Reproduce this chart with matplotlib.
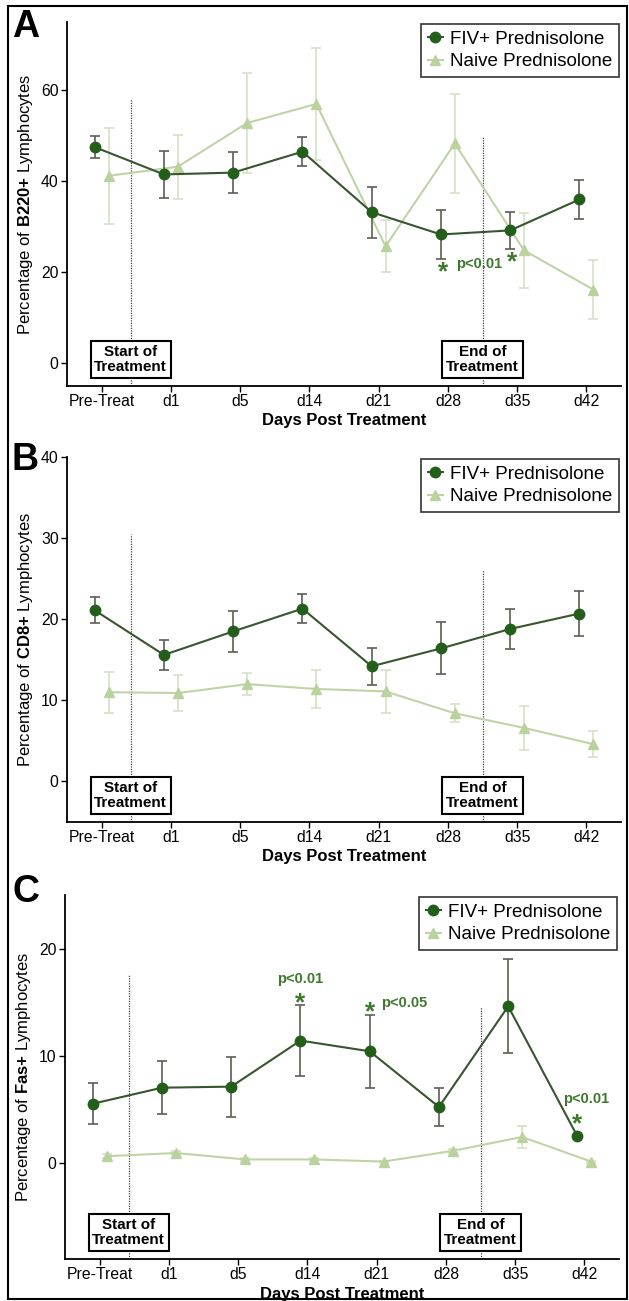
import matplotlib
matplotlib.use('Agg')
import matplotlib.pyplot as plt
import numpy as np
from matplotlib.patches import Rectangle

plt.rcParams['font.family'] = ['Liberation Sans', 'DejaVu Sans']
plt.rcParams['mathtext.fontset'] = 'custom'
plt.rcParams['mathtext.rm'] = 'Liberation Sans'
plt.rcParams['mathtext.bf'] = 'Liberation Sans:bold'

# ---------------- data ----------------
categories = ['Pre-Treat', 'd1', 'd5', 'd14', 'd21', 'd28', 'd35', 'd42']
series_names = ['FIV+ Prednisolone', 'Naive Prednisolone']

b220_fiv = [47.5, 41.5, 41.9, 46.5, 33.2, 28.3, 29.2, 36.0]
b220_fiv_err = [2.4, 5.2, 4.5, 3.2, 5.6, 5.4, 4.1, 4.3]
b220_naive = [41.2, 43.2, 52.8, 57.0, 25.7, 48.3, 24.8, 16.2]
b220_naive_err = [10.6, 7.0, 11.0, 12.3, 5.7, 10.8, 8.2, 6.5]

cd8_fiv = [21.1, 15.6, 18.5, 21.3, 14.2, 16.4, 18.8, 20.7]
cd8_fiv_err = [1.6, 1.8, 2.5, 1.8, 2.3, 3.2, 2.5, 2.8]
cd8_naive = [11.0, 10.9, 12.0, 11.4, 11.1, 8.4, 6.6, 4.6]
cd8_naive_err = [2.5, 2.2, 1.4, 2.3, 2.6, 1.1, 2.7, 1.6]

fas_fiv = [5.5, 7.0, 7.1, 11.4, 10.4, 5.2, 14.6, 2.45]
fas_fiv_err = [1.9, 2.5, 2.8, 3.3, 3.4, 1.8, 4.4, 0.15]
fas_naive = [0.6, 0.9, 0.3, 0.3, 0.1, 1.1, 2.4, 0.1]
fas_naive_err = [0.2, 0.2, 0.1, 0.1, 0.1, 0.2, 1.0, 0.1]

# ---------------- style ----------------
W, H = 629, 1301
FIV_MK = '#235f1b'
FIV_LN = '#38552f'
FIV_ER = '#5c5f55'
NAI_MK = '#b9d29e'
NAI_LN = '#bfd4a6'
NAI_ER = '#d5e0c4'
ANN = '#3e7a2d'

fig = plt.figure(figsize=(W / 100, H / 100), dpi=100)


def rect(l, r, t, b):
    return [l / W, 1 - b / H, (r - l) / W, (b - t) / H]


panels = [
    dict(letter='A', rect=rect(67, 621, 22, 386), ylim=(-5, 75), yticks=[0, 20, 40, 60],
         bold='B220', fiv=b220_fiv, fe=b220_fiv_err, nai=b220_naive, ne=b220_naive_err,
         start_top=58, end_top=50, letter_xy=(12, 37)),
    dict(letter='B', rect=rect(67, 621, 457, 822), ylim=(-5, 40), yticks=[0, 10, 20, 30, 40],
         bold='CD8', fiv=cd8_fiv, fe=cd8_fiv_err, nai=cd8_naive, ne=cd8_naive_err,
         start_top=30.5, end_top=26.1, letter_xy=(12, 470)),
    dict(letter='C', rect=rect(65, 619, 895, 1259), ylim=(-9, 25), yticks=[0, 10, 20],
         bold='Fas', fiv=fas_fiv, fe=fas_fiv_err, nai=fas_naive, ne=fas_naive_err,
         start_top=17.6, end_top=14.5, letter_xy=(12, 902)),
]

x = np.arange(len(categories))
off = 0.1
start_x, end_x = 0.42, 5.5

axes = []
for p in panels:
    ax = fig.add_axes(p['rect'])
    axes.append(ax)
    ax.errorbar(x + off, p['nai'], yerr=p['ne'], fmt='none', ecolor=NAI_ER,
                elinewidth=1.2, capsize=3.5, capthick=1.2, zorder=2)
    ax.plot(x + off, p['nai'], '-^', color=NAI_LN, mfc=NAI_MK, mec=NAI_MK, lw=1.5,
            ms=7.5, zorder=3, label=series_names[1])
    ax.errorbar(x - off, p['fiv'], yerr=p['fe'], fmt='none', ecolor=FIV_ER,
                elinewidth=1.2, capsize=3.5, capthick=1.2, zorder=4)
    ax.plot(x - off, p['fiv'], '-o', color=FIV_LN, mfc=FIV_MK, mec=FIV_MK, lw=1.5,
            ms=7.5, zorder=5, label=series_names[0])

    ax.set_xlim(-0.5, 7.5)
    ax.set_ylim(*p['ylim'])
    ax.set_yticks(p['yticks'])
    ax.set_xticks(x)
    ax.set_xticklabels(categories)
    ax.tick_params(labelsize=11.3, length=4, width=1, pad=2)
    for s in ['top', 'right']:
        ax.spines[s].set_visible(False)
    for s in ['left', 'bottom']:
        ax.spines[s].set_linewidth(1.3)
    ax.set_xlabel('Days Post Treatment', fontsize=12, fontweight='bold', labelpad=3)
    ax.set_ylabel('Percentage of $\\mathbf{' + p['bold'] + '{+}}$ Lymphocytes', fontsize=12,
                  labelpad=4)

    # treatment lines
    ylo = p['ylim'][0]
    ax.plot([start_x, start_x], [ylo, p['start_top']], color='#444444', lw=0.9,
            ls=(0, (1, 1)), zorder=1)
    ax.plot([end_x, end_x], [ylo, p['end_top']], color='#444444', lw=0.9,
            ls=(0, (1, 1)), zorder=1)
    for xx, txt in [(start_x, 'Start of\nTreatment'), (end_x, 'End of\nTreatment')]:
        ax.annotate(txt, xy=(xx, 0.073), xycoords=('data', 'axes fraction'),
                    ha='center', va='center', fontsize=11, fontweight='bold',
                    linespacing=1.15, zorder=6,
                    bbox=dict(boxstyle='square,pad=0.25', fc='white', ec='black', lw=1.5))

    lines = [l for l in ax.get_lines() if l.get_label() in series_names]
    lines = sorted(lines, key=lambda l: series_names.index(l.get_label()))
    leg = ax.legend(handles=lines, loc='upper right',
                    fontsize=13.5, frameon=True, fancybox=False, edgecolor='black',
                    handlelength=0.8, handletextpad=0.4, borderpad=0.35,
                    borderaxespad=0.1, labelspacing=0.3)
    leg.get_frame().set_linewidth(1.2)

    lx, ly = p['letter_xy']
    fig.text(lx / W, 1 - ly / H, p['letter'], fontsize=27, fontweight='bold',
             ha='left', va='baseline')

# significance annotations
axA, axB, axC = axes
kw = dict(color=ANN, fontweight='bold')
star = 19
axA.text(4.93, 19.9, '*', fontsize=star, ha='center', va='center', **kw)
axA.text(5.12, 21.8, 'p<0.01', fontsize=10.5, ha='left', va='center', **kw)
axA.text(5.93, 22.1, '*', fontsize=star, ha='center', va='center', **kw)

axC.text(2.9, 17.2, 'p<0.01', fontsize=10.5, ha='center', va='center', **kw)
axC.text(2.9, 14.9, '*', fontsize=star, ha='center', va='center', **kw)
axC.text(3.9, 14.0, '*', fontsize=star, ha='center', va='center', **kw)
axC.text(4.07, 14.9, 'p<0.05', fontsize=10.5, ha='left', va='center', **kw)
axC.text(7.03, 5.9, 'p<0.01', fontsize=10.5, ha='center', va='center', **kw)
axC.text(6.9, 3.6, '*', fontsize=star, ha='center', va='center', **kw)

# outer frame
fig.patches.append(Rectangle((8 / W, 2 / H), 619 / W, 1 - 8 / H, transform=fig.transFigure,
                             fill=False, ec='black', lw=1.5))

fig.savefig('out.png', dpi=100)
